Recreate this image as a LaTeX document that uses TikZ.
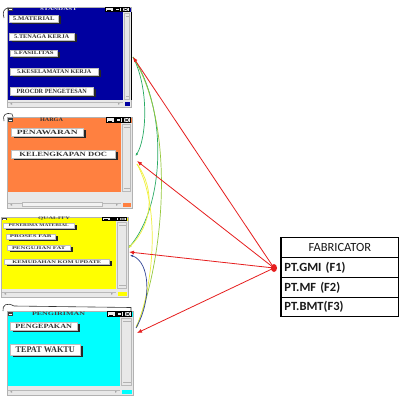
\documentclass[tikz,border=0pt]{standalone}
\usepackage{fontspec}
\usepackage{graphicx}
\setmainfont{Liberation Serif}
\newfontfamily\tabfont{Carlito}
\usetikzlibrary{arrows.meta}
\definecolor{stdblue}{RGB}{0,0,160}
\definecolor{hargaor}{RGB}{255,128,64}
\definecolor{qyellow}{RGB}{255,255,0}
\definecolor{pcyan}{RGB}{0,255,255}
\definecolor{sbgray}{RGB}{232,232,232}
\definecolor{redarr}{RGB}{230,30,30}
\definecolor{grn}{RGB}{40,170,100}
\definecolor{ygrn}{RGB}{150,200,60}
\definecolor{ylw}{RGB}{240,240,60}
\definecolor{blu}{RGB}{50,70,150}

% window frame: x1 y1 x2 ytitle ycontent ybottom colour ; scrollbar width in \sw
\newcommand\winframe[7]{%
 \fill[sbgray] (#1,#4) rectangle (#3,#6);
 \fill[#7] (#1,#4) rectangle ({#3-\sw},#5);
 \fill[#7] (#1,#2) rectangle (#3,#4);
 \draw[gray!60,line width=0.5pt] (#1,#2) rectangle (#3,#6);
 \fill[black!75] ({#1+1},{#2+0.8}) rectangle ({#1+6},{#4-0.8});
 \fill[white] ({#1+2},{(#2+#4)/2-0.4}) rectangle ({#1+5},{(#2+#4)/2+0.4});
 \foreach \i in {0,1,2} {
   \draw[black,fill=gray!15,line width=0.4pt] ({#3-25.5+8.3*\i},{#2+0.6}) rectangle ({#3-18.3+8.3*\i},{#4-0.6});
 }
 \draw[black,line width=0.5pt] ({#3-24},{#4-1.5}) -- ({#3-20},{#4-1.5});
 \draw[black,line width=0.5pt] ({#3-15.6},{#2+1.5}) rectangle ({#3-11.6},{#4-1.5});
 \draw[black,line width=0.5pt] ({#3-7.4},{#2+1.5}) -- ({#3-3.4},{#4-1.5}) ({#3-7.4},{#4-1.5}) -- ({#3-3.4},{#2+1.5});
 \draw[gray!55,line width=0.4pt] ({#3-\sw+1.5},{#4+1}) rectangle ({#3-1.5},{#5-1});
 \draw[gray!60,line width=0.4pt] ({#3-\sw+3},{#4+4}) -- ({#3-2.5},{#4+4}) ({#3-\sw+3},{#5-4}) -- ({#3-2.5},{#5-4});
 \fill[#7] ({#3-\sw+2},{#6-5}) rectangle ({#3-1},{#6-1.5});
 \draw[gray!55,line width=0.4pt] ({#1+1},{#6-5}) -- ({#3-\sw},{#6-5});
 \fill[gray!70] ({#1+3},{#6-3.2}) -- ({#1+5},{#6-4.2}) -- ({#1+5},{#6-2.2}) -- cycle;
 \fill[gray!70] ({#3-\sw-3},{#6-3.2}) -- ({#3-\sw-5},{#6-4.2}) -- ({#3-\sw-5},{#6-2.2}) -- cycle;
}
% button: name x1 y1 x2 y2 text
\newcommand\btn[6]{%
 \fill[black!85] ({#2+2.5},{#3+1.5}) rectangle (#4,#5);
 \draw[fill=white,draw=gray!50,line width=0.4pt] (#2,#3) rectangle ({#4-2.5},{#5-1.5});
 \pgfmathsetmacro\bw{(#4-#2-2.5)*0.84}
 \pgfmathsetmacro\bh{(#5-#3-1.5)*0.5}
 \node[inner sep=0pt,text=black!80] (#1) at ({(#2+#4-2.5)/2},{(#3+#5-1.5)/2}) {\resizebox{\bw pt}{\bh pt}{\rmfamily\bfseries #6}};
}
% title: name xc yc w h colour text
\newcommand\ttl[7]{%
 \node[inner sep=0pt,text=#6] (#1) at (#2,#3) {\resizebox{#4pt}{#5pt}{\rmfamily\bfseries #7}};
}

\begin{document}
\begin{tikzpicture}[x=1pt,y=-1pt,
  cell/.style={draw=black,line width=0.8pt,minimum height=20pt,text width=111pt,
    inner xsep=3pt,inner ysep=0pt,anchor=north west,text=black!90,
    font=\tabfont\fontsize{12.5}{14}\selectfont},
  conn/.style={line width=0.7pt,-{Latex[length=3pt,width=2.5pt]}},
  redline/.style={redarr,line width=0.8pt,-{Latex[length=5pt,width=4pt]}},
  hook/.style={black!80,line width=0.6pt}]
\useasboundingbox (0,0) rectangle (406,404);
\fill[white] (0,0) rectangle (406,404);

% ---- STANDAST window
\def\sw{8}
\winframe{7}{7}{131}{12}{100}{107}{stdblue}
\draw[black,line width=0.8pt] (131,12) -- (131,100);
\ttl{tstd}{58.5}{9.6}{37}{2.8}{gray!25}{STANDAST}
\btn{b1}{9}{15}{61}{24}{5.MATERIAL}
\btn{b2}{9}{33}{77}{42}{5.TENAGA KERJA}
\btn{b3}{10}{50}{60}{58}{5.FASILITAS}
\btn{b4}{10}{68}{101}{77}{5.KESELAMATAN KERJA}
\btn{b5}{10}{87}{96}{97}{PROCDR PENGETESAN}
\draw[hook] (4,18) .. controls (2,12) and (4,8.5) .. (8.5,8);

% ---- HARGA window
\def\sw{11}
\winframe{7}{117}{132}{123}{192}{208}{hargaor}
\draw[gray!55,fill=gray!10,line width=0.4pt] (22,202) rectangle (102,206);
\ttl{thrg}{51.5}{120}{23}{3.4}{black!80}{HARGA}
\btn{b6}{11}{128}{86}{138}{PENAWARAN}
\btn{b7}{11}{150}{118}{160}{KELENGKAPAN DOC}
\draw[hook] (4,121) .. controls (2,115) and (6,112) .. (12,114) -- (13,117);

% ---- QUALITY window
\def\sw{12}
\winframe{1}{217}{128}{221}{289}{297}{qyellow}
\ttl{tqly}{54}{219}{32}{2.6}{black!70}{QUALITY}
\btn{b8}{3}{223}{77}{229.5}{PENERIMA MATERIAL}
\btn{b9}{6}{234}{58}{240.5}{PROSES FAB}
\btn{b10}{7}{245}{73}{252}{PENGUJIAN FAT}
\btn{b11}{4}{259}{112}{266}{KEMUDAHAN KOM UPDATE}

% ---- PENGIRIMAN window
\def\sw{13}
\winframe{7}{311}{133}{317}{386}{395}{pcyan}
\ttl{tpgr}{58.5}{314}{53}{3.4}{black!75}{PENGIRIMAN}
\btn{b12}{10}{322}{80}{332}{PENGEPAKAN}
\btn{b13}{10}{344}{83}{357}{TEPAT WAKTU}
\draw[hook] (3,311) .. controls (2,305) and (7,302) .. (14,306) -- (131,307.5) -- (131,311);

% ---- FABRICATOR table
\node[cell,align=center] (fab) at (281,237) {FABRICATOR};
\node[cell,align=left,font=\tabfont\bfseries\fontsize{12.5}{14}\selectfont] (f1) at (281,257) {PT.GMI (F1)};
\node[cell,align=left,font=\tabfont\bfseries\fontsize{12.5}{14}\selectfont] (f2) at (281,277) {PT.MF (F2)};
\node[cell,align=left,minimum height=19pt,font=\tabfont\bfseries\fontsize{12.5}{14}\selectfont] (f3) at (281,297) {PT.BMT(F3)};
\draw[black,line width=1.6pt] (fab.north west) -- (f3.south west);

% ---- connection points
\coordinate (sA) at (133,57);
\coordinate (hA) at (137,161);
\coordinate (hB) at (135.5,156);
\coordinate (hC) at (137,164);
\coordinate (qA) at (129,252);
\coordinate (qB) at (128.5,248);
\coordinate (qC) at (130,255);
\coordinate (pA) at (137,333);
\coordinate (pB) at (136,328);
\coordinate (src) at (274,268);

% ---- curved connectors
\draw[grn,conn] (sA) .. controls (150,90) and (146,140) .. (hB);
\draw[grn,conn] (sA) .. controls (168,110) and (165,205) .. (qB);
\draw[ygrn,conn] (sA) .. controls (178,130) and (162,265) .. (pB);
\draw[ylw,conn] (hC) .. controls (156,190) and (152,225) .. (qB);
\draw[ylw,conn] (hC) .. controls (162,210) and (152,290) .. (pB);
\draw[blu,conn] (pB) .. controls (152,300) and (150,262) .. (qC);

% ---- red arrows from the fabricator
\draw[redline] (src) -- (sA);
\draw[redline] (src) -- (hA);
\draw[redline] (src) -- (qA);
\draw[redline] (src) -- (pA);
\fill[redarr] (src) ellipse (3pt and 4pt);
\end{tikzpicture}
\end{document}
